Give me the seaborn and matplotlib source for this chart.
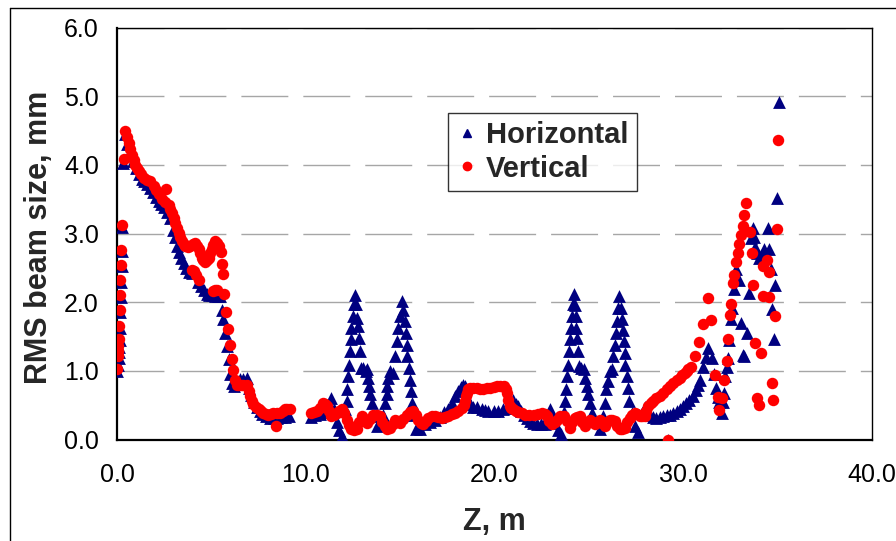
import numpy as np
import pandas as pd
import matplotlib
matplotlib.use("Agg")
import matplotlib.pyplot as plt
from matplotlib.lines import Line2D
import seaborn as sns

# ---------------- data ----------------
horiz_z = [0.02, 0.05, 0.08, 0.10, 0.12, 0.14, 0.16, 0.18, 0.20, 0.22, 0.24, 0.26, 0.28, 0.33, 0.42,
           0.55, 0.70, 0.85, 1.00, 1.15, 1.30, 1.45, 1.60, 1.75, 1.90, 2.05, 2.20, 2.35, 2.50, 2.65,
           2.82, 2.95, 3.05, 3.17, 3.28, 3.40, 3.53, 3.65, 3.80, 3.95, 4.14, 4.30, 4.45, 4.60, 4.76,
           4.90, 5.05, 5.20, 5.35, 5.47, 5.56, 5.64, 5.73, 5.82, 5.91, 6.00, 6.10, 6.20, 6.35, 6.53,
           6.70, 6.88, 7.00, 7.10, 7.25, 7.40, 7.55, 7.70, 7.90, 8.10, 8.30, 8.50, 8.70, 8.90, 9.10,
           10.30, 10.50, 10.75, 11.00, 11.20, 11.36, 11.50, 11.63, 11.77, 11.90,
           12.10, 12.16, 12.20, 12.25, 12.30, 12.34, 12.38, 12.42, 12.48, 12.55, 12.60, 12.66, 12.73,
           12.77, 12.80, 12.87, 12.93, 13.04, 13.18, 13.26, 13.30, 13.36, 13.42, 13.49, 13.58, 13.75,
           13.95, 14.10, 14.20, 14.28, 14.33, 14.38, 14.46, 14.64, 14.72, 14.81, 14.90, 14.99, 15.08,
           15.17, 15.25, 15.31, 15.35, 15.38, 15.45, 15.52, 15.56, 15.61, 15.70, 15.84, 16.05, 16.30,
           16.58, 16.85, 17.12, 17.35, 17.55, 17.73, 17.91, 18.08, 18.20, 18.35, 18.44, 18.52, 18.70,
           18.88, 19.06, 19.32, 19.50, 19.68, 19.95, 20.20, 20.45, 20.65, 20.85, 21.00, 21.15, 21.27,
           21.40, 21.54, 21.70, 21.89, 22.05, 22.25, 22.45, 22.65, 22.80, 22.94, 23.05, 23.20, 23.35,
           23.50, 23.70, 23.75, 23.80, 23.84, 23.88, 23.93, 23.99, 24.05, 24.10, 24.14, 24.20, 24.25,
           24.30, 24.34, 24.38, 24.43, 24.50, 24.60, 24.73, 24.80, 24.91, 24.96, 25.05, 25.14, 25.30,
           25.58, 25.75, 25.84, 25.93, 26.02, 26.10, 26.24, 26.30, 26.38, 26.44, 26.50, 26.56, 26.60,
           26.68, 26.74, 26.80, 26.86, 26.90, 26.94, 27.00, 27.05, 27.10, 27.26, 27.43, 27.61, 27.79,
           27.96, 28.10, 28.23, 28.40, 28.58, 28.76, 28.94, 29.20, 29.12, 29.29, 29.47, 29.65, 29.82,
           30.00, 30.15, 30.30, 30.50, 30.65, 30.78, 30.90, 31.07, 31.20, 31.32, 31.51, 31.62, 31.74,
           31.86, 31.92, 32.04, 32.12, 32.18, 32.23, 32.30, 32.36, 32.45, 32.53, 32.59, 32.68, 32.75,
           32.80, 32.97, 33.06, 33.15, 33.24, 33.36, 33.47, 33.59, 33.68, 33.75, 33.82, 33.92, 34.03,
           34.15, 34.30, 34.47, 34.56, 34.65, 34.88, 34.70, 34.83, 34.97, 35.06]
horiz_v = [1.00, 1.08, 1.18, 1.27, 1.35, 1.45, 1.63, 1.86, 2.08, 2.30, 2.52, 2.74, 3.10, 4.02, 4.45,
           4.30, 4.18, 4.06, 3.95, 3.87, 3.80, 3.76, 3.72, 3.66, 3.60, 3.53, 3.48, 3.43, 3.38, 3.32,
           3.22, 3.05, 2.95, 2.82, 2.73, 2.64, 2.57, 2.50, 2.44, 2.42, 2.84, 2.30, 2.24, 2.18, 2.12,
           2.10, 2.10, 2.09, 2.09, 2.09, 1.89, 1.75, 1.55, 1.36, 1.17, 0.95, 0.82, 0.78, 0.82, 0.88,
           0.88, 0.90, 0.75, 0.65, 0.55, 0.48, 0.42, 0.37, 0.34, 0.32, 0.32, 0.32, 0.33, 0.33, 0.34,
           0.33, 0.35, 0.37, 0.40, 0.50, 0.60, 0.45, 0.25, 0.14, 0.05,
           0.45, 0.56, 0.73, 0.92, 1.09, 1.29, 1.47, 1.63, 1.80, 1.97, 2.11, 1.97, 1.77,
           1.65, 1.48, 1.29, 1.04, 1.04, 1.00, 1.02, 0.90, 0.78, 0.66, 0.53, 0.34, 0.19,
           0.22, 0.35, 0.53, 0.66, 0.78, 0.90, 1.00, 0.97, 1.21, 1.43, 1.63, 1.80, 2.01,
           1.89, 1.72, 1.55, 1.38, 1.21, 1.04, 0.87, 0.70, 0.53, 0.36, 0.15, 0.15, 0.22,
           0.25, 0.29, 0.33, 0.40, 0.45, 0.53, 0.63, 0.71, 0.76, 0.80, 0.78, 0.60, 0.52,
           0.48, 0.48, 0.44, 0.43, 0.42, 0.42, 0.42, 0.44, 0.46, 0.52, 0.58, 0.52, 0.49,
           0.42, 0.36, 0.31, 0.27, 0.24, 0.22, 0.22, 0.22, 0.32, 0.44, 0.36, 0.24, 0.14,
           0.08, 0.40, 0.56, 0.73, 0.92, 1.09, 1.29, 1.46, 1.63, 1.80, 1.97, 2.12, 1.96,
           1.80, 1.63, 1.48, 1.29, 1.07, 1.04, 1.02, 0.90, 0.78, 0.66, 0.53, 0.39, 0.27,
           0.15, 0.34, 0.53, 0.73, 0.85, 1.00, 1.02, 1.21, 1.38, 1.55, 1.72, 1.92, 2.09,
           1.92, 1.75, 1.60, 1.43, 1.26, 1.09, 0.92, 0.75, 0.56, 0.39, 0.19, 0.11, 0.39,
           0.47, 0.42, 0.36, 0.33, 0.32, 0.33, 0.34, 0.00, 0.35, 0.36, 0.38, 0.41, 0.44,
           0.49, 0.53, 0.57, 0.63, 0.72, 0.80, 0.87, 1.06, 1.20, 1.33, 1.18, 0.95, 0.75,
           0.62, 0.55, 0.38, 0.55, 0.67, 0.92, 1.05, 1.18, 1.45, 1.76, 1.91, 2.19, 2.35,
           2.49, 2.32, 1.69, 1.23, 1.21, 1.55, 2.13, 2.93, 3.08, 2.95, 2.81, 2.72, 2.64,
           2.70, 2.78, 3.08, 2.78, 2.49, 2.25, 1.90, 1.47, 3.51, 4.92]

vert_z = [0.00, 0.05, 0.06, 0.07, 0.08, 0.12, 0.14, 0.17, 0.18, 0.20, 0.21, 0.26, 0.35, 0.44,
          0.53, 0.62, 0.70, 0.79, 0.88, 0.97, 1.06, 1.15, 1.28, 1.41, 1.58, 1.76, 1.94, 2.07, 2.20,
          2.38, 2.61, 2.55, 2.73, 2.82, 2.91, 3.00, 3.09, 3.17, 3.26, 3.35, 3.44, 3.53, 3.62, 3.75,
          3.88, 4.00, 4.14, 4.23, 4.32, 4.41, 4.50, 4.58, 4.67, 4.76, 4.85, 4.94, 5.03, 5.11, 5.20,
          5.29, 5.38, 5.50, 5.56, 5.61,
          3.95, 4.06, 4.20, 4.32, 5.11, 5.20, 5.29,
          5.68, 5.78, 5.87, 6.00, 6.08, 6.17, 6.26, 6.35, 6.44, 6.57, 6.70, 6.88, 6.97, 7.05, 7.14,
          7.23, 7.36, 7.50, 7.63, 7.76, 7.90, 8.02, 8.15, 8.29, 8.43, 8.50, 8.64, 8.77, 8.90, 9.02,
          9.14,
          10.30, 10.45, 10.57, 10.75, 10.92, 11.00, 11.10, 11.23, 11.36, 11.50, 11.63, 11.77, 11.90,
          12.03, 12.16, 12.29, 12.42, 12.55, 12.69, 12.82, 12.96, 13.09, 13.22, 13.40, 13.58, 13.75,
          13.93, 14.06, 14.20, 14.33, 14.46, 14.60, 14.73, 14.86, 14.99, 15.17, 15.35, 15.52, 15.70,
          15.83, 15.96, 16.10, 16.23, 16.36, 16.50, 16.67, 16.85, 17.03, 17.20, 17.38, 17.56, 17.73,
          17.91, 18.09, 18.27, 18.36, 18.44, 18.50, 18.53, 18.60, 18.70, 18.88, 19.06, 19.24, 19.41,
          19.60, 19.77, 19.95, 20.12, 20.30, 20.48, 20.60, 20.65, 20.73, 20.83, 20.90, 21.00, 21.14,
          21.27, 21.45, 21.63, 21.85, 22.07, 22.30, 22.51, 22.65, 22.78, 22.90, 23.04, 23.18, 23.31,
          23.45, 23.66, 23.85, 23.98, 24.12, 24.25, 24.38, 24.51, 24.65, 24.78, 24.90, 25.04, 25.17,
          25.30, 25.44, 25.57, 25.70, 25.84, 25.97, 26.10, 26.24, 26.37, 26.50, 26.64, 26.77, 26.90,
          27.03, 27.17, 27.30, 27.43, 27.57, 27.70, 27.83, 27.96, 28.05, 28.14, 28.27, 28.41, 28.58,
          28.76, 28.94, 29.12, 29.20, 29.30, 29.47, 29.65, 29.82, 29.95, 30.09, 30.18, 30.27, 30.42,
          30.63, 30.86, 31.03, 31.30, 31.48, 31.70, 31.83, 31.92, 32.06, 32.18, 32.30, 32.39, 32.48,
          32.53, 32.66, 32.71, 32.80, 32.89, 32.97, 33.06, 33.15, 33.24, 33.33, 33.54, 33.63, 33.72,
          33.82, 34.12, 33.89, 34.03, 34.24, 34.42, 34.53, 34.21, 34.56, 34.86, 34.69, 34.77, 34.95,
          35.04]
vert_v = [1.03, 1.21, 1.29, 1.36, 1.47, 1.65, 1.88, 2.10, 2.32, 2.54, 2.76, 3.13, 4.08, 4.49,
          4.40, 4.32, 4.23, 4.15, 4.07, 4.00, 3.95, 3.91, 3.86, 3.81, 3.78, 3.76, 3.69, 3.63, 3.57,
          3.50, 3.65, 3.46, 3.42, 3.36, 3.30, 3.23, 3.16, 3.08, 3.01, 2.95, 2.89, 2.85, 2.82, 2.81,
          2.82, 2.84, 2.86, 2.82, 2.77, 2.71, 2.65, 2.61, 2.58, 2.61, 2.65, 2.71, 2.77, 2.83, 2.89,
          2.86, 2.82, 2.73, 2.55, 2.41,
          2.47, 2.45, 2.39, 2.33, 2.16, 2.17, 2.18,
          2.12, 1.85, 1.61, 1.37, 1.17, 1.01, 0.87, 0.80, 0.79, 0.79, 0.79, 0.79, 0.70, 0.63, 0.56,
          0.51, 0.47, 0.44, 0.41, 0.39, 0.37, 0.36, 0.37, 0.38, 0.19, 0.38, 0.39, 0.42, 0.44, 0.45,
          0.45,
          0.39, 0.40, 0.41, 0.46, 0.53, 0.52, 0.49, 0.41, 0.34, 0.36, 0.39, 0.42, 0.44,
          0.38, 0.29, 0.21, 0.15, 0.14, 0.15, 0.25, 0.34, 0.30, 0.24, 0.30, 0.36, 0.36,
          0.34, 0.26, 0.19, 0.16, 0.17, 0.23, 0.29, 0.27, 0.24, 0.30, 0.36, 0.40, 0.41,
          0.35, 0.29, 0.24, 0.22, 0.27, 0.32, 0.34, 0.34, 0.33, 0.32, 0.33, 0.34, 0.37,
          0.39, 0.42, 0.46, 0.50, 0.56, 0.63, 0.68, 0.73, 0.75, 0.75, 0.75, 0.74, 0.74,
          0.75, 0.75, 0.77, 0.78, 0.78, 0.78, 0.73, 0.68, 0.58, 0.49, 0.46, 0.44, 0.42,
          0.40, 0.38, 0.36, 0.36, 0.36, 0.37, 0.39, 0.37, 0.34, 0.27, 0.22, 0.25, 0.29,
          0.34, 0.34, 0.27, 0.17, 0.25, 0.32, 0.33, 0.34, 0.26, 0.19, 0.25, 0.29, 0.25,
          0.22, 0.26, 0.29, 0.24, 0.19, 0.25, 0.29, 0.28, 0.27, 0.20, 0.15, 0.15, 0.17,
          0.25, 0.32, 0.36, 0.39, 0.37, 0.34, 0.34, 0.34, 0.42, 0.49, 0.53, 0.56, 0.60,
          0.63, 0.68, 0.73, 0.00, 0.78, 0.83, 0.87, 0.90, 0.94, 0.97, 1.00, 1.02, 1.06,
          1.22, 1.42, 1.68, 2.06, 1.74, 0.94, 0.62, 0.43, 0.60, 0.87, 1.14, 1.47, 1.81,
          1.98, 2.28, 2.40, 2.59, 2.71, 2.85, 2.98, 3.11, 3.27, 3.44, 3.02, 2.71, 2.25,
          1.40, 1.26, 0.60, 0.50, 2.52, 2.61, 2.44, 2.09, 2.07, 1.80, 0.82, 0.57, 3.07,
          4.36]

series_names = ["Horizontal", "Vertical"]
x_ticks = [0, 10, 20, 30, 40]
y_ticks = [0, 1, 2, 3, 4, 5, 6]

df_h = pd.DataFrame({"z": horiz_z, "v": horiz_v})
df_v = pd.DataFrame({"z": vert_z, "v": vert_v})

# ---------------- style ----------------
sns.set_style("white")
plt.rcParams["font.family"] = ["Liberation Sans", "DejaVu Sans"]

W, H = 896, 541
fig = plt.figure(figsize=(W / 100, H / 100), dpi=100)
ax_l, ax_r, ax_t, ax_b = 117, 872, 27.5, 439.5
ax = fig.add_axes([ax_l / W, 1 - ax_b / H, (ax_r - ax_l) / W, (ax_b - ax_t) / H])

navy = "#000080"
red = "#FF0000"

sns.scatterplot(data=df_h, x="z", y="v", ax=ax, marker="^", color=navy, s=85,
                linewidth=0, zorder=3, label=series_names[0])
sns.scatterplot(data=df_v, x="z", y="v", ax=ax, marker="o", color=red, s=68,
                linewidth=0, zorder=4, label=series_names[1])

ax.set_xlim(0, 40)
ax.set_ylim(0, 6)
ax.set_xticks(x_ticks)
ax.set_yticks(y_ticks)
ax.set_xticklabels([f"{t:.1f}" for t in x_ticks])
ax.set_yticklabels([f"{t:.1f}" for t in y_ticks])

ax.yaxis.grid(True, color="#a6a6a6", linewidth=1.0, linestyle=(0, (33.8, 10.8)), zorder=0)
ax.xaxis.grid(False)
ax.set_axisbelow(True)

for side in ["left", "bottom"]:
    ax.spines[side].set_color("black")
    ax.spines[side].set_linewidth(1.6)
for side in ["top", "right"]:
    ax.spines[side].set_color("black")
    ax.spines[side].set_linewidth(1.0)

ax.tick_params(axis="both", direction="out", length=5, width=1, color="#555555",
               labelsize=18, labelcolor="black")
ax.tick_params(axis="x", pad=12)
ax.tick_params(axis="y", pad=8)

ax.set_xlabel("Z, m", fontsize=22, fontweight="bold")
ax.set_ylabel("RMS beam size, mm", fontsize=22, fontweight="bold")
ax.xaxis.set_label_coords(0.5, -0.165)
ax.yaxis.set_label_coords(-0.083, 0.49)

handles = [Line2D([], [], marker="^", linestyle="none", color=navy, markersize=6),
           Line2D([], [], marker="o", linestyle="none", color=red, markersize=6)]
leg = ax.legend(handles, series_names, loc="upper left",
                bbox_to_anchor=((447.7 - ax_l) / (ax_r - ax_l), (ax_b - 112.7) / (ax_b - ax_t)),
                frameon=True, fancybox=False, shadow=False, edgecolor="black",
                prop={"size": 21, "weight": "bold"}, handlelength=0.7,
                handletextpad=0.3, labelspacing=0.18, borderpad=0.3, borderaxespad=0)
leg.get_frame().set_linewidth(1.0)
leg.get_frame().set_facecolor("white")
leg.set_zorder(10)

# outer chart border (cropped on right and bottom)
fig.add_artist(Line2D([9.5 / W, 9.5 / W], [0, 1 - 7.5 / H], color="black", linewidth=1.0,
                      transform=fig.transFigure))
fig.add_artist(Line2D([9.5 / W, 1], [1 - 7.5 / H, 1 - 7.5 / H], color="black", linewidth=1.0,
                      transform=fig.transFigure))

fig.savefig("out.png", dpi=100)
